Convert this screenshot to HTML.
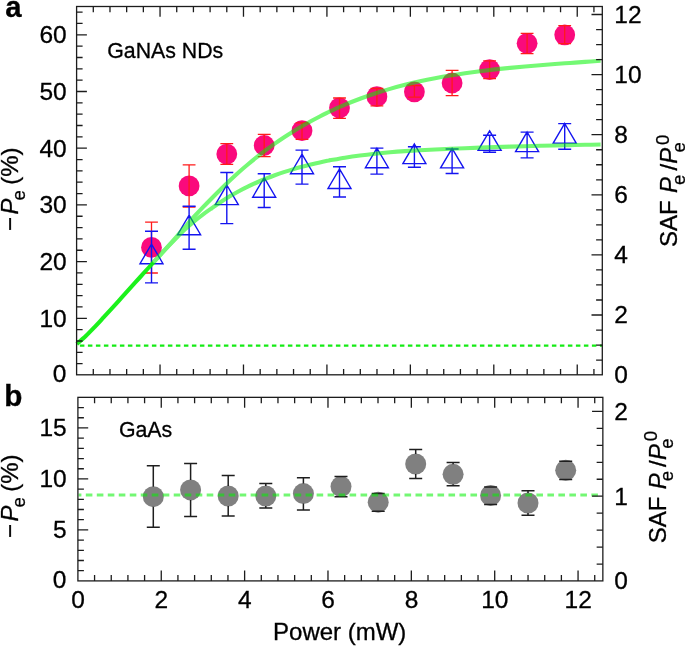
<!DOCTYPE html><html><head><meta charset="utf-8"><title>Figure</title><style>html,body{margin:0;padding:0;background:#fff}svg{display:block;will-change:transform;transform:translateZ(0)}text{font-family:"Liberation Sans",Arial,Helvetica,sans-serif;fill:#000;stroke:#000;stroke-width:0.3px}</style></head><body>
<svg width="685" height="646" viewBox="0 0 685 646">
<rect width="685" height="646" fill="#fff"/>
<path d="M79.9 345.6H602" stroke="#14eb14" stroke-width="2.2" stroke-dasharray="4.5 3.5" fill="none"/>
<g fill="#fa0a7c">
<circle cx="151.5" cy="247.4" r="10.4"/>
<circle cx="189.1" cy="185.9" r="10.4"/>
<circle cx="226.8" cy="154.1" r="10.4"/>
<circle cx="264.2" cy="145.5" r="10.4"/>
<circle cx="302" cy="130.7" r="10.4"/>
<circle cx="339.5" cy="107.9" r="10.4"/>
<circle cx="376.9" cy="96.7" r="10.4"/>
<circle cx="414.4" cy="91.8" r="10.4"/>
<circle cx="452.1" cy="83" r="10.4"/>
<circle cx="489.6" cy="69.6" r="10.4"/>
<circle cx="527.1" cy="43.3" r="10.4"/>
<circle cx="564.7" cy="34.8" r="10.4"/>
</g>
<path d="M151.5 222.1V273M145.1 222.1h12.8M145.1 273h12.8M189.1 164.8V207M182.7 164.8h12.8M182.7 207h12.8M226.8 143.7V164.3M220.4 143.7h12.8M220.4 164.3h12.8M264.2 134.4V156.6M257.8 134.4h12.8M257.8 156.6h12.8M302 122.8V139.4M295.6 122.8h12.8M295.6 139.4h12.8M339.5 98V118.3M333.1 98h12.8M333.1 118.3h12.8M376.9 88.5V105.9M370.5 88.5h12.8M370.5 105.9h12.8M414.4 85.6V97.2M408 85.6h12.8M408 97.2h12.8M452.1 70.3V95.6M445.7 70.3h12.8M445.7 95.6h12.8M489.6 60.9V78.7M483.2 60.9h12.8M483.2 78.7h12.8M527.1 33.3V53.7M520.7 33.3h12.8M520.7 53.7h12.8M564.7 25.6V43.7M558.3 25.6h12.8M558.3 43.7h12.8" stroke="#ff1a1a" stroke-width="1.3" fill="none"/>
<path d="M151.5 231.3V282.9M145 231.3h13M145 282.9h13M151.5 244.1L163 263.7L140 263.7ZM189.1 206.2V249.2M182.6 206.2h13M182.6 249.2h13M189.1 215.1L200.6 234.7L177.6 234.7ZM226.8 172.5V223.6M220.3 172.5h13M220.3 223.6h13M226.8 185L238.3 204.6L215.3 204.6ZM264.2 173.7V207.5M257.7 173.7h13M257.7 207.5h13M264.2 177.6L275.7 197.2L252.7 197.2ZM302 150.1V184.1M295.5 150.1h13M295.5 184.1h13M302 154.1L313.5 173.7L290.5 173.7ZM339.5 166.7V197M333 166.7h13M333 197h13M339.5 168.9L351 188.5L328 188.5ZM376.9 148.1V174.1M370.4 148.1h13M370.4 174.1h13M376.9 148.1L388.4 167.7L365.4 167.7ZM414.4 146.8V167.2M407.9 146.8h13M407.9 167.2h13M414.4 144L425.9 163.6L402.9 163.6ZM452.1 149V173.5M445.6 149h13M445.6 173.5h13M452.1 148.3L463.6 167.9L440.6 167.9ZM489.6 135.3V152.2M483.1 135.3h13M483.1 152.2h13M489.6 130.8L501.1 150.4L478.1 150.4ZM527.1 132.1V157.9M520.6 132.1h13M520.6 157.9h13M527.1 132L538.6 151.6L515.6 151.6ZM564.7 123.6V149.2M558.2 123.6h13M558.2 149.2h13M564.7 123.5L576.2 143.1L553.2 143.1Z" stroke="#1414f0" stroke-width="1.4" fill="none" stroke-linejoin="miter"/>
<path d="M76.8 343.9C78.3 342.58 82.8 338.83 85.8 336C88.8 333.17 91.8 330.03 94.8 326.9C97.8 323.77 100.8 320.45 103.8 317.2C106.8 313.95 109.8 310.7 112.8 307.4C115.8 304.1 118.8 300.73 121.8 297.4C124.8 294.07 127.8 290.72 130.8 287.4C133.8 284.08 136.8 280.82 139.8 277.5C142.8 274.18 146.52 270.03 148.8 267.5C151.08 264.97 152.72 263.19 153.5 262.33" stroke="#0af00a" stroke-opacity="0.93" stroke-width="4.1" fill="none"/>
<g opacity="0.54" stroke="#00f400" stroke-width="4.1" fill="none"><path d="M153.5 262.33C154.22 261.54 155.58 260.04 157.8 257.6C160.02 255.16 163.8 251.03 166.8 247.7C169.8 244.37 172.8 241.02 175.8 237.6C178.8 234.18 181.8 230.63 184.8 227.2C187.8 223.77 190.8 220.3 193.8 217C196.8 213.7 199.8 210.53 202.8 207.4C205.8 204.27 208.8 201.23 211.8 198.2C214.8 195.17 217.8 192.15 220.8 189.2C223.8 186.25 226.8 183.34 229.8 180.5C232.8 177.66 235.8 174.86 238.8 172.19C241.8 169.52 244.8 166.98 247.8 164.48C250.8 161.97 253.8 159.53 256.8 157.16C259.8 154.78 262.8 152.47 265.8 150.23C268.8 147.98 271.8 145.81 274.8 143.69C277.8 141.57 280.8 139.52 283.8 137.53C286.8 135.54 289.8 133.62 292.8 131.75C295.8 129.88 298.8 128.07 301.8 126.32C304.8 124.57 307.8 122.87 310.8 121.23C313.8 119.59 316.8 118 319.8 116.46C322.8 114.92 327.1 112.85 328.8 112.01C330.5 111.17 327.3 112.65 330 111.44C332.7 110.23 340 106.84 345 104.73C350 102.62 355 100.65 360 98.78C365 96.91 370 95.17 375 93.52C380 91.87 385 90.33 390 88.88C395 87.43 400 86.09 405 84.82C410 83.55 415 82.38 420 81.27C425 80.16 430 79.15 435 78.19C440 77.23 445 76.33 450 75.5C455 74.67 460 73.9 465 73.18C470 72.46 475 71.79 480 71.16C485 70.53 490 69.94 495 69.39C500 68.84 505 68.33 510 67.84C515 67.35 520 66.91 525 66.47C530 66.03 535 65.62 540 65.22C545 64.82 550 64.44 555 64.06C560 63.68 565 63.32 570 62.95C575 62.59 579.9 62.24 585 61.87C590.1 61.5 598 60.91 600.6 60.72"/><path d="M153.5 262.33C154.22 261.54 155.58 260.01 157.8 257.6C160.02 255.2 163.8 251.07 166.8 247.9C169.8 244.73 172.8 241.65 175.8 238.6C178.8 235.55 181.8 232.43 184.8 229.6C187.8 226.77 190.8 224.1 193.8 221.6C196.8 219.1 199.8 216.83 202.8 214.6C205.8 212.37 208.8 210.3 211.8 208.2C214.8 206.1 217.8 203.98 220.8 202C223.8 200.02 226.8 198.1 229.8 196.3C232.8 194.5 235.8 192.82 238.8 191.21C241.8 189.6 244.8 188.11 247.8 186.66C250.8 185.21 253.8 183.82 256.8 182.5C259.8 181.18 262.8 179.92 265.8 178.72C268.8 177.52 271.8 176.37 274.8 175.28C277.8 174.19 280.8 173.15 283.8 172.16C286.8 171.17 289.8 170.24 292.8 169.34C295.8 168.44 298.8 167.6 301.8 166.79C304.8 165.98 307.8 165.22 310.8 164.49C313.8 163.76 316.8 163.07 319.8 162.41C322.8 161.75 327.1 160.89 328.8 160.54C330.5 160.19 327.3 160.79 330 160.31C332.7 159.83 340 158.46 345 157.65C350 156.84 355 156.12 360 155.46C365 154.8 370 154.22 375 153.68C380 153.14 385 152.67 390 152.24C395 151.81 400 151.44 405 151.1C410 150.76 415 150.46 420 150.18C425 149.9 430 149.66 435 149.43C440 149.2 445 149 450 148.79C455 148.58 460 148.39 465 148.2C470 148.01 475 147.83 480 147.65C485 147.47 490 147.29 495 147.13C500 146.97 505 146.81 510 146.66C515 146.51 520 146.36 525 146.22C530 146.08 535 145.95 540 145.82C545 145.69 550 145.57 555 145.45C560 145.33 565 145.22 570 145.11C575 145 579.9 144.91 585 144.81C590.1 144.71 598 144.58 600.6 144.53"/></g>
<g fill="#808080">
<circle cx="153.3" cy="496.7" r="10.5"/>
<circle cx="190.6" cy="489.9" r="10.5"/>
<circle cx="228.2" cy="496" r="10.5"/>
<circle cx="265.8" cy="496" r="10.5"/>
<circle cx="303.4" cy="493.6" r="10.5"/>
<circle cx="341" cy="486.6" r="10.5"/>
<circle cx="378.2" cy="502.2" r="10.5"/>
<circle cx="415.7" cy="464" r="10.5"/>
<circle cx="453.1" cy="474.3" r="10.5"/>
<circle cx="490.6" cy="495.5" r="10.5"/>
<circle cx="528" cy="503" r="10.5"/>
<circle cx="565.7" cy="470.3" r="10.5"/>
</g>
<path d="M146.8 465.8h13M146.8 527.2h13M153.3 465.8V486.7M153.3 506.7V527.2M184.1 463.4h13M184.1 516.5h13M190.6 463.4V479.9M190.6 499.9V516.5M221.7 475.5h13M221.7 516.1h13M228.2 475.5V486M228.2 506V516.1M259.3 483.6h13M259.3 508.1h13M265.8 483.6V486M265.8 506V508.1M296.9 477.8h13M296.9 510.1h13M303.4 477.8V483.6M303.4 503.6V510.1M334.5 476.5h13M334.5 496.7h13M371.7 493.6h13M371.7 511.3h13M409.2 449.4h13M409.2 478.6h13M415.7 449.4V454M415.7 474V478.6M446.6 462.4h13M446.6 485.7h13M453.1 462.4V464.3M453.1 484.3V485.7M484.1 486.9h13M484.1 504.6h13M521.5 490.8h13M521.5 515.2h13M528 490.8V493M528 513V515.2M559.2 461.2h13M559.2 479.4h13" stroke="#1e1e1e" stroke-width="1.5" fill="none"/>
<path d="M78.6 495.0H598" stroke="#00f000" stroke-opacity="0.55" stroke-width="3" stroke-dasharray="6.6 4.39" stroke-dashoffset="3.79" fill="none"/>
<path d="M160.04 374.8v-10.3M160.04 6.5v10.3M243.48 374.8v-10.3M243.48 6.5v10.3M326.92 374.8v-10.3M326.92 6.5v10.3M410.36 374.8v-10.3M410.36 6.5v10.3M493.8 374.8v-10.3M493.8 6.5v10.3M577.24 374.8v-10.3M577.24 6.5v10.3M93.29 374.8v-5.8M93.29 6.5v5.8M109.98 374.8v-5.8M109.98 6.5v5.8M126.66 374.8v-5.8M126.66 6.5v5.8M143.35 374.8v-5.8M143.35 6.5v5.8M176.73 374.8v-5.8M176.73 6.5v5.8M193.42 374.8v-5.8M193.42 6.5v5.8M210.1 374.8v-5.8M210.1 6.5v5.8M226.79 374.8v-5.8M226.79 6.5v5.8M260.17 374.8v-5.8M260.17 6.5v5.8M276.86 374.8v-5.8M276.86 6.5v5.8M293.54 374.8v-5.8M293.54 6.5v5.8M310.23 374.8v-5.8M310.23 6.5v5.8M343.61 374.8v-5.8M343.61 6.5v5.8M360.3 374.8v-5.8M360.3 6.5v5.8M376.98 374.8v-5.8M376.98 6.5v5.8M393.67 374.8v-5.8M393.67 6.5v5.8M427.05 374.8v-5.8M427.05 6.5v5.8M443.74 374.8v-5.8M443.74 6.5v5.8M460.42 374.8v-5.8M460.42 6.5v5.8M477.11 374.8v-5.8M477.11 6.5v5.8M510.49 374.8v-5.8M510.49 6.5v5.8M527.18 374.8v-5.8M527.18 6.5v5.8M543.86 374.8v-5.8M543.86 6.5v5.8M560.55 374.8v-5.8M560.55 6.5v5.8M593.93 374.8v-5.8M593.93 6.5v5.8M76.6 318.3h10.3M76.6 261.6h10.3M76.6 204.9h10.3M76.6 148.2h10.3M76.6 91.5h10.3M76.6 34.8h10.3M76.6 363.66h6M76.6 352.32h6M76.6 340.98h6M76.6 329.64h6M76.6 306.96h6M76.6 295.62h6M76.6 284.28h6M76.6 272.94h6M76.6 250.26h6M76.6 238.92h6M76.6 227.58h6M76.6 216.24h6M76.6 193.56h6M76.6 182.22h6M76.6 170.88h6M76.6 159.54h6M76.6 136.86h6M76.6 125.52h6M76.6 114.18h6M76.6 102.84h6M76.6 80.16h6M76.6 68.82h6M76.6 57.48h6M76.6 46.14h6M76.6 23.46h6M76.6 12.12h6M602.3 315h-10.8M602.3 254.9h-10.8M602.3 194.8h-10.8M602.3 134.7h-10.8M602.3 74.6h-10.8M602.3 14.5h-10.8M602.3 360.08h-6.2M602.3 345.05h-6.2M602.3 330.03h-6.2M602.3 299.98h-6.2M602.3 284.95h-6.2M602.3 269.93h-6.2M602.3 239.88h-6.2M602.3 224.85h-6.2M602.3 209.83h-6.2M602.3 179.78h-6.2M602.3 164.75h-6.2M602.3 149.73h-6.2M602.3 119.68h-6.2M602.3 104.65h-6.2M602.3 89.62h-6.2M602.3 59.57h-6.2M602.3 44.55h-6.2M602.3 29.53h-6.2" stroke="#1c1c1c" stroke-width="1.3" fill="none"/>
<rect x="76.6" y="6.5" width="525.7" height="368.3" fill="none" stroke="#1c1c1c" stroke-width="1.3"/>
<path d="M161.26 580.9v-10.3M161.26 397.35v10.3M244.62 580.9v-10.3M244.62 397.35v10.3M327.98 580.9v-10.3M327.98 397.35v10.3M411.34 580.9v-10.3M411.34 397.35v10.3M494.7 580.9v-10.3M494.7 397.35v10.3M578.06 580.9v-10.3M578.06 397.35v10.3M94.57 580.9v-5.8M94.57 397.35v5.8M111.24 580.9v-5.8M111.24 397.35v5.8M127.92 580.9v-5.8M127.92 397.35v5.8M144.59 580.9v-5.8M144.59 397.35v5.8M177.93 580.9v-5.8M177.93 397.35v5.8M194.6 580.9v-5.8M194.6 397.35v5.8M211.28 580.9v-5.8M211.28 397.35v5.8M227.95 580.9v-5.8M227.95 397.35v5.8M261.29 580.9v-5.8M261.29 397.35v5.8M277.96 580.9v-5.8M277.96 397.35v5.8M294.64 580.9v-5.8M294.64 397.35v5.8M311.31 580.9v-5.8M311.31 397.35v5.8M344.65 580.9v-5.8M344.65 397.35v5.8M361.32 580.9v-5.8M361.32 397.35v5.8M378 580.9v-5.8M378 397.35v5.8M394.67 580.9v-5.8M394.67 397.35v5.8M428.01 580.9v-5.8M428.01 397.35v5.8M444.68 580.9v-5.8M444.68 397.35v5.8M461.36 580.9v-5.8M461.36 397.35v5.8M478.03 580.9v-5.8M478.03 397.35v5.8M511.37 580.9v-5.8M511.37 397.35v5.8M528.04 580.9v-5.8M528.04 397.35v5.8M544.72 580.9v-5.8M544.72 397.35v5.8M561.39 580.9v-5.8M561.39 397.35v5.8M594.73 580.9v-5.8M594.73 397.35v5.8M77.9 529.91h10.3M77.9 478.93h10.3M77.9 427.94h10.3M77.9 570.7h6M77.9 560.51h6M77.9 550.31h6M77.9 540.11h6M77.9 519.72h6M77.9 509.52h6M77.9 499.32h6M77.9 489.12h6M77.9 468.73h6M77.9 458.53h6M77.9 448.34h6M77.9 438.14h6M77.9 417.74h6M77.9 407.55h6M602.85 496.2h-10.8M602.85 411.4h-10.8M602.85 564.04h-6.2M602.85 547.08h-6.2M602.85 530.12h-6.2M602.85 513.16h-6.2M602.85 479.24h-6.2M602.85 462.28h-6.2M602.85 445.32h-6.2M602.85 428.36h-6.2" stroke="#1c1c1c" stroke-width="1.3" fill="none"/>
<rect x="77.9" y="397.35" width="524.95" height="183.55" fill="none" stroke="#1c1c1c" stroke-width="1.3"/>
<text x="66.4" y="381.5" font-size="24.5" text-anchor="end">0</text>
<text x="66.7" y="326.8" font-size="24.5" text-anchor="end">10</text>
<text x="66.7" y="270.1" font-size="24.5" text-anchor="end">20</text>
<text x="66.7" y="213.4" font-size="24.5" text-anchor="end">30</text>
<text x="66.7" y="156.7" font-size="24.5" text-anchor="end">40</text>
<text x="66.7" y="100" font-size="24.5" text-anchor="end">50</text>
<text x="66.7" y="43.3" font-size="24.5" text-anchor="end">60</text>
<text x="614.3" y="383.4" font-size="24.5" text-anchor="start">0</text>
<text x="614.3" y="323.3" font-size="24.5" text-anchor="start">2</text>
<text x="614.3" y="263.2" font-size="24.5" text-anchor="start">4</text>
<text x="614.3" y="203.1" font-size="24.5" text-anchor="start">6</text>
<text x="614.3" y="143" font-size="24.5" text-anchor="start">8</text>
<text x="614.3" y="82.9" font-size="24.5" text-anchor="start">10</text>
<text x="614.3" y="22.8" font-size="24.5" text-anchor="start">12</text>
<text x="66.3" y="587.6" font-size="24.5" text-anchor="end">0</text>
<text x="66.7" y="538.21" font-size="24.5" text-anchor="end">5</text>
<text x="66.7" y="487.23" font-size="24.5" text-anchor="end">10</text>
<text x="66.7" y="436.24" font-size="24.5" text-anchor="end">15</text>
<text x="614.3" y="589.3" font-size="24.5" text-anchor="start">0</text>
<text x="614.3" y="504.5" font-size="24.5" text-anchor="start">1</text>
<text x="614.3" y="419.7" font-size="24.5" text-anchor="start">2</text>
<text x="78.05" y="608" font-size="24.5" text-anchor="middle">0</text>
<text x="161.41" y="608" font-size="24.5" text-anchor="middle">2</text>
<text x="244.77" y="608" font-size="24.5" text-anchor="middle">4</text>
<text x="328.13" y="608" font-size="24.5" text-anchor="middle">6</text>
<text x="411.49" y="608" font-size="24.5" text-anchor="middle">8</text>
<text x="494.85" y="608" font-size="24.5" text-anchor="middle">10</text>
<text x="578.21" y="608" font-size="24.5" text-anchor="middle">12</text>
<text x="339.7" y="639.8" font-size="24" text-anchor="middle">Power (mW)</text>
<text x="107.3" y="58.1" font-size="21.3" text-anchor="start">GaNAs NDs</text>
<text x="118.9" y="437.4" font-size="21.3" text-anchor="start">GaAs</text>
<text x="5.3" y="17" font-size="29.3" text-anchor="start" font-weight="bold" stroke="none">a</text>
<text x="4.2" y="406.2" font-size="29.7" text-anchor="start" font-weight="bold" stroke="none">b</text>
<text transform="rotate(-90)" x="-231.1" y="17.8" font-size="24">−</text>
<text transform="rotate(-90)" x="-214.4" y="17.8" font-size="24" font-style="italic">P</text>
<text transform="rotate(-90)" x="-200.4" y="24.8" font-size="18.5">e</text>
<text transform="rotate(-90)" x="-184.8" y="17.8" font-size="24">(%)</text>
<text transform="rotate(-90)" x="-538.1" y="17.7" font-size="24">−</text>
<text transform="rotate(-90)" x="-521.4" y="17.7" font-size="24" font-style="italic">P</text>
<text transform="rotate(-90)" x="-507.4" y="24.7" font-size="18.5">e</text>
<text transform="rotate(-90)" x="-491.8" y="17.7" font-size="24">(%)</text>
<text transform="rotate(-90)" x="-246.9" y="677.2" font-size="24">SAF</text>
<text transform="rotate(-90)" x="-192.9" y="677.2" font-size="24" font-style="italic">P</text>
<text transform="rotate(-90)" x="-184.9" y="684.5" font-size="18.5">e</text>
<text transform="rotate(-90)" x="-170.6" y="677.2" font-size="24">/</text>
<text transform="rotate(-90)" x="-163.7" y="677.2" font-size="24" font-style="italic">P</text>
<text transform="rotate(-90)" x="-152.4" y="684.5" font-size="18.5">e</text>
<text transform="rotate(-90)" x="-144.9" y="668.8" font-size="18.5">0</text>
<text transform="rotate(-90)" x="-543.3" y="665.7" font-size="24">SAF</text>
<text transform="rotate(-90)" x="-489.3" y="665.7" font-size="24" font-style="italic">P</text>
<text transform="rotate(-90)" x="-481.3" y="673" font-size="18.5">e</text>
<text transform="rotate(-90)" x="-467" y="665.7" font-size="24">/</text>
<text transform="rotate(-90)" x="-460.1" y="665.7" font-size="24" font-style="italic">P</text>
<text transform="rotate(-90)" x="-448.8" y="673" font-size="18.5">e</text>
<text transform="rotate(-90)" x="-441.3" y="657.3" font-size="18.5">0</text>
</svg></body></html>
